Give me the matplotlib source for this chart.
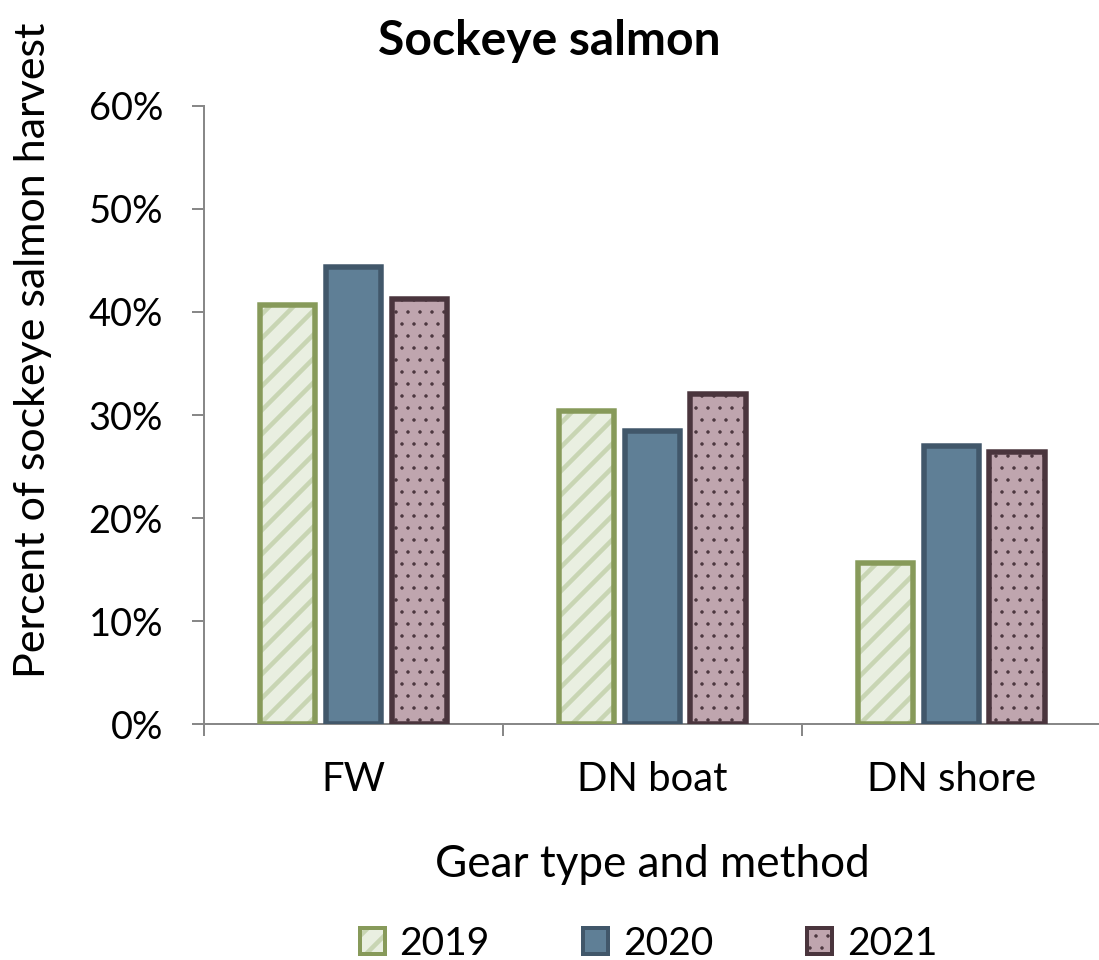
import numpy as np
import matplotlib
matplotlib.use("Agg")
import matplotlib.pyplot as plt
from matplotlib.legend_handler import HandlerTuple

plt.rcParams["font.family"] = ["Lato", "DejaVu Sans"]

# Data
categories = ["FW", "DN boat", "DN shore"]
years = ["2019", "2020", "2021"]
share_2019 = [40.7, 30.4, 15.6]
share_2020 = [44.4, 28.4, 27.0]
share_2021 = [41.3, 32.0, 26.4]

series = [share_2019, share_2020, share_2021]
fills = ["#e9efe1", "#5f7f96", "#bfa5ae"]
edges = ["#879a5a", "#41576a", "#4a353d"]
hatch_colors = ["#c8d5b3", None, "#4a353d"]
hatches = ["/", None, "."]
hatch_widths = [4.5, 1.0, 1.0]


def use_hatch_lw(artist, lw):
    # hatch linewidth is taken from rcParams when the artist is drawn
    orig = artist.draw

    def draw(renderer):
        with matplotlib.rc_context({"hatch.linewidth": lw}):
            orig(renderer)
    artist.draw = draw
    if hasattr(artist, "set_hatch_linewidth"):
        artist.set_hatch_linewidth(lw)


# dpi 72 so one point is one pixel (also sets hatch spacing)
fig = plt.figure(figsize=(1099 / 72, 960 / 72), dpi=72)
ax = fig.add_axes([0.1856, 0.2458, 0.816, 0.6438])

x = np.arange(len(categories))
width = 0.185
offsets = [-0.22, 0.0, 0.22]

handles = []
for vals, fc, ec, hc, h, hw, off in zip(series, fills, edges, hatch_colors, hatches, hatch_widths, offsets):
    plt.rcParams["hatch.linewidth"] = hw
    hb = ax.bar(x + off, vals, width, color=fc, edgecolor=hc if h else "none", hatch=h,
                linewidth=0, zorder=2)
    for p in hb:
        use_hatch_lw(p, hw)
    ax.bar(x + off, vals, width, color="none", edgecolor=ec, linewidth=5.5, zorder=4)
    key_fill = plt.Rectangle((0, 0), 1, 1, facecolor=fc, edgecolor=hc if h else "none",
                             hatch=h, linewidth=0)
    key_edge = plt.Rectangle((0, 0), 1, 1, facecolor="none", edgecolor=ec, linewidth=4)
    handles.append((key_fill, key_edge))

ax.set_xlim(-0.5, 2.5)
ax.set_ylim(0, 60)
ax.set_yticks(np.arange(0, 61, 10))
ax.set_yticklabels([f"{v}%" for v in range(0, 61, 10)])
ax.set_xticks(x)
ax.set_xticklabels(categories)
ax.set_xticks([-0.5, 0.5, 1.5, 2.5], minor=True)
ax.tick_params(axis="x", which="major", length=0, pad=37, labelsize=40)
ax.tick_params(axis="x", which="minor", length=12, width=2, color="#888888", direction="out")
ax.tick_params(axis="y", length=12, width=2, color="#888888", labelsize=38, pad=29)

for s in ["top", "right"]:
    ax.spines[s].set_visible(False)
for s in ["left", "bottom"]:
    ax.spines[s].set_color("#888888")
    ax.spines[s].set_linewidth(2)

ax.set_ylabel("Percent of sockeye salmon harvest", fontsize=43)
ax.yaxis.set_label_coords(-0.169, 0.605)
ax.set_xlabel("Gear type and method", fontsize=44, labelpad=46)
fig.text(0.5, 0.957, "Sockeye salmon", ha="center", va="center", fontsize=48, fontweight="bold")

leg = fig.legend(handles, years, loc="center", bbox_to_anchor=(0.59, 0.017), ncol=3,
                 frameon=False, fontsize=39, handlelength=0.64, handleheight=0.64,
                 handletextpad=0.38, columnspacing=2.4,
                 handler_map={tuple: HandlerTuple(ndivide=1, pad=0)})
for p in leg.get_patches():
    if p.get_hatch() == "/":
        use_hatch_lw(p, 4.5)
    else:
        use_hatch_lw(p, 1.0)

fig.savefig("out.png", dpi=72)
